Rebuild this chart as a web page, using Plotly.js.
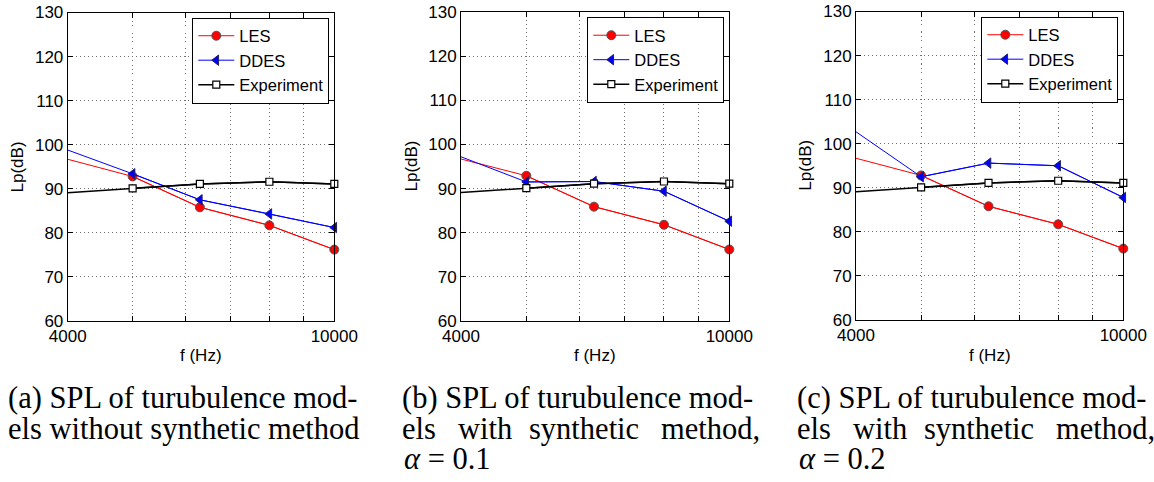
<!DOCTYPE html>
<html>
<head>
<meta charset="utf-8">
<script src="https://cdn.plot.ly/plotly-3.0.1.min.js"></script>
<style>
html,body{margin:0;padding:0;background:#fff;}
#chart{width:1154px;height:482px;}
</style>
</head>
<body>
<div id="chart"></div>
<script>
// ---- data ----
var freq = [4000, 5000, 6300, 8000, 10000];
var lesA = [96.7, 92.8, 85.8, 81.7, 76.2];
var ddesA = [98.8, 93.4, 87.5, 84.3, 81.2];
var expA = [89.1, 90.1, 91.1, 91.6, 91.1];
var lesB = [96.7, 92.9, 85.9, 81.8, 76.2];
var ddesB = [97.2, 91.5, 91.6, 89.4, 82.6];
var expB = [89.1, 90.1, 91.1, 91.6, 91.1];
var lesC = [96.7, 92.8, 85.8, 81.7, 76.2];
var ddesC = [102.7, 92.5, 95.6, 95.0, 87.8];
var expC = [89.1, 90.1, 91.1, 91.6, 91.1];
var seriesNames = ['LES', 'DDES', 'Experiment'];
var xTickVals = [4000, 5000, 6000, 7000, 8000, 9000, 10000];
var xTickText = ['4000', '', '', '', '', '', '10000'];
var yTickVals = [60, 70, 80, 90, 100, 110, 120, 130];
var captionsA = ['(a) SPL of turubulence mod-', 'els without synthetic method'];
var captionB1 = '(b) SPL of turubulence mod-';
var captionC1 = '(c) SPL of turubulence mod-';
var captionLine2Words = ['els', 'with', 'synthetic', 'method,'];
var alphaB = '<i>α</i> = 0.1';
var alphaC = '<i>α</i> = 0.2';

// ---- layout helpers ----
var W = 1154, H = 482;
function px(x) { return x / W; }
function py(y) { return 1 - y / H; }
var panels = [
  {l: 67.7, r: 334.3, t: 12.5, b: 321, les: lesA, ddes: ddesA, exp: expA},
  {l: 461, r: 729.3, t: 12, b: 321, les: lesB, ddes: ddesB, exp: expB},
  {l: 856, r: 1123.3, t: 11.5, b: 320, les: lesC, ddes: ddesC, exp: expC}
];
var sansFont = 'Liberation Sans, Arial, Helvetica, sans-serif';
var serifFont = 'Liberation Serif, Times New Roman, serif';

var styles = [
  {color: '#ff0000', width: 1, marker: {symbol: 'circle', size: 9, color: '#ff0000', line: {color: '#555555', width: 1}}},
  {color: '#0000ff', width: 1, marker: {symbol: 'triangle-left', size: 9, color: '#0000ff', line: {color: '#222266', width: 1}}},
  {color: '#000000', width: 1.5, marker: {symbol: 'square', size: 7, color: '#ffffff', line: {color: '#000000', width: 1.2}}}
];

var traces = [];
var layout = {
  width: W, height: H,
  margin: {l: 0, r: 0, t: 0, b: 0},
  paper_bgcolor: '#ffffff', plot_bgcolor: '#ffffff',
  font: {family: sansFont, size: 17, color: '#000'},
  showlegend: true,
  annotations: []
};

panels.forEach(function (p, i) {
  var sfx = i === 0 ? '' : String(i + 1);
  var xa = 'x' + sfx, ya = 'y' + sfx;
  var legName = 'legend' + sfx;
  var data = [p.les, p.ddes, p.exp];
  data.forEach(function (ys, k) {
    var st = styles[k];
    // full line including the value at the left edge (no marker there)
    traces.push({
      x: freq, y: ys, xaxis: xa, yaxis: ya, mode: 'lines',
      line: {color: st.color, width: st.width}, showlegend: false,
      hoverinfo: 'skip', legend: legName
    });
    // markers at measured bands
    traces.push({
      x: freq.slice(1), y: ys.slice(1), xaxis: xa, yaxis: ya,
      mode: 'lines+markers', name: seriesNames[k],
      line: {color: st.color, width: st.width}, marker: st.marker,
      legend: legName, showlegend: true, cliponaxis: false
    });
  });
  var axCommon = {
    showline: true, linecolor: '#000', linewidth: 1, mirror: 'ticks',
    ticks: 'inside', ticklen: 5, tickcolor: '#000', tickwidth: 1,
    showgrid: true, gridcolor: '#707070', griddash: '1px,3px', gridwidth: 1,
    zeroline: false, tickfont: {family: sansFont, size: 17, color: '#000'}
  };
  layout['xaxis' + sfx] = Object.assign({}, axCommon, {
    type: 'log', range: [Math.log10(4000), Math.log10(10000)],
    tickmode: 'array', tickvals: xTickVals, ticktext: xTickText,
    domain: [px(p.l), px(p.r)], anchor: ya
  });
  layout['yaxis' + sfx] = Object.assign({}, axCommon, {
    range: [60, 130], tickmode: 'array', tickvals: yTickVals,
    domain: [py(p.b), py(p.t)], anchor: xa
  });
  layout[legName] = {
    x: px(p.r - 5), y: py(p.t + 5), xanchor: 'right', yanchor: 'top',
    xref: 'paper', yref: 'paper',
    bgcolor: '#ffffff', bordercolor: '#000', borderwidth: 1,
    font: {family: sansFont, size: 16.5, color: '#000'},
    itemwidth: 36, tracegroupgap: 0
  };
  // axis titles
  layout.annotations.push({
    xref: 'paper', yref: 'paper', x: px(p.l - 50), y: py((p.t + p.b) / 2),
    text: 'Lp(dB)', textangle: -90, showarrow: false,
    xanchor: 'center', yanchor: 'middle',
    font: {family: sansFont, size: 17, color: '#000'}
  });
  layout.annotations.push({
    xref: 'paper', yref: 'paper', x: px((p.l + p.r) / 2), y: py(355),
    text: 'f (Hz)', showarrow: false, xanchor: 'center', yanchor: 'middle',
    font: {family: sansFont, size: 17, color: '#000'}
  });
});

// ---- captions ----
var capFont = {family: serifFont, size: 30.5, color: '#000'};
function cap(text, x, y, anchor) {
  layout.annotations.push({
    xref: 'paper', yref: 'paper', x: px(x), y: py(y), text: text,
    showarrow: false, xanchor: anchor || 'left', yanchor: 'middle', font: capFont
  });
}
var line1Y = 397.5, line2Y = 428.5, line3Y = 459;
cap(captionsA[0], 6, line1Y);
cap(captionsA[1], 6, line2Y);
[[400, captionB1, alphaB], [795, captionC1, alphaC]].forEach(function (c) {
  var x0 = c[0];
  cap(c[1], x0, line1Y);
  cap(captionLine2Words[0], x0, line2Y);
  cap(captionLine2Words[1], x0 + 56, line2Y);
  cap(captionLine2Words[2], x0 + 127, line2Y);
  cap(captionLine2Words[3], x0 + 362, line2Y, 'right');
  cap(c[2], x0 + 2, line3Y);
});

Plotly.newPlot('chart', traces, layout, {displayModeBar: false, staticPlot: true});
</script>
</body>
</html>
